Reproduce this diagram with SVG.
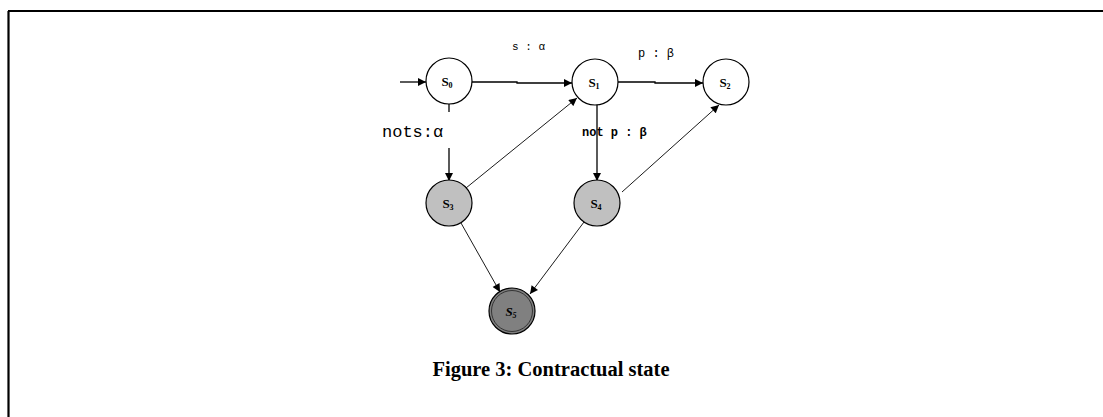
<svg xmlns="http://www.w3.org/2000/svg" width="1103" height="417" viewBox="0 0 1103 417">
  <style>
    .state { stroke: #000; stroke-width: 1.2; }
    .plain { fill: #fff; }
    .pending { fill: #c0c0c0; }
    .final { fill: #808080; }
    .lbl { font-family: "Liberation Serif", serif; font-weight: bold; font-size: 13px; fill: #000; }
    .sub { font-size: 8px; }
    .edge { stroke: #000; stroke-width: 1.3; fill: none; }
    .thin { stroke: #000; stroke-width: 0.9; fill: none; }
    .tag { font-family: "Liberation Mono", monospace; fill: #000; }
    .caption { font-family: "Liberation Serif", serif; font-weight: bold; font-size: 20.5px; fill: #000; }
  </style>
  <defs>
    <marker id="arrow" viewBox="0 0 10 10" refX="10" refY="5" markerWidth="9" markerHeight="8" markerUnits="userSpaceOnUse" orient="auto">
      <path d="M0,0 L10,5 L0,10 z" fill="#000"/>
    </marker>
  </defs>

  <rect width="1103" height="417" fill="#fff"/>
  <!-- frame: top and left rules -->
  <path d="M8,11 H1103 M8.5,11 V417" stroke="#000" stroke-width="2.2" fill="none"/>

  <!-- transitions -->
  <g id="connectors">
    <line class="edge" x1="400" y1="82" x2="426" y2="82" marker-end="url(#arrow)"/>
    <path class="edge" d="M472,82 H517 V83 H572" marker-end="url(#arrow)"/>
    <path class="edge" d="M618,82 H655 V83 H703" marker-end="url(#arrow)"/>
    <line class="edge" x1="449" y1="104" x2="449" y2="181" marker-end="url(#arrow)"/>
    <line class="edge" x1="597" y1="104" x2="597" y2="181" marker-end="url(#arrow)"/>
    <line class="thin" x1="466" y1="188" x2="577" y2="98" marker-end="url(#arrow)"/>
    <line class="thin" x1="622" y1="192" x2="719" y2="105" marker-end="url(#arrow)"/>
    <line class="thin" x1="461" y1="223" x2="500" y2="292" marker-end="url(#arrow)"/>
    <line class="thin" x1="584" y1="222" x2="530" y2="294" marker-end="url(#arrow)"/>
  </g>

  <!-- transition labels -->
  <g id="labels">
    <text class="tag" x="512" y="50" font-size="11">s : α</text>
    <text class="tag" x="638" y="57" font-size="12">p : β</text>
    <rect x="380" y="112" width="72" height="36" fill="#fff"/>
    <text class="tag" x="382" y="137" font-size="17">nots:α</text>
    <text class="tag" x="582" y="136" font-size="12" font-weight="bold">not p : β</text>
  </g>

  <g id="s0">
    <circle class="state plain" cx="449" cy="81" r="23"/>
    <text class="lbl" x="447" y="86" text-anchor="middle">S<tspan class="sub" dy="2">0</tspan></text>
  </g>
  <g id="s1">
    <circle class="state plain" cx="595" cy="82" r="23"/>
    <text class="lbl" x="594" y="87" text-anchor="middle">S<tspan class="sub" dy="2">1</tspan></text>
  </g>
  <g id="s2">
    <circle class="state plain" cx="726" cy="82" r="23" stroke-width="2"/>
    <text class="lbl" x="725" y="87" text-anchor="middle">S<tspan class="sub" dy="2">2</tspan></text>
  </g>
  <g id="s3">
    <circle class="state pending" cx="449" cy="203" r="23"/>
    <text class="lbl" x="448" y="208" text-anchor="middle">S<tspan class="sub" dy="2">3</tspan></text>
  </g>
  <g id="s4">
    <circle class="state pending" cx="597" cy="203" r="23"/>
    <text class="lbl" x="596" y="208" text-anchor="middle">S<tspan class="sub" dy="2">4</tspan></text>
  </g>
  <g id="s5">
    <circle class="state final" cx="512" cy="311" r="23" stroke-width="2.2"/>
    <circle cx="512" cy="311" r="20.5" fill="none" stroke="#000" stroke-width="0.6"/>
    <text class="lbl" x="511" y="316" text-anchor="middle" font-style="italic">S<tspan class="sub" dy="2">5</tspan></text>
  </g>

  <text class="caption" x="551" y="376" text-anchor="middle">Figure 3: Contractual state</text>
</svg>
